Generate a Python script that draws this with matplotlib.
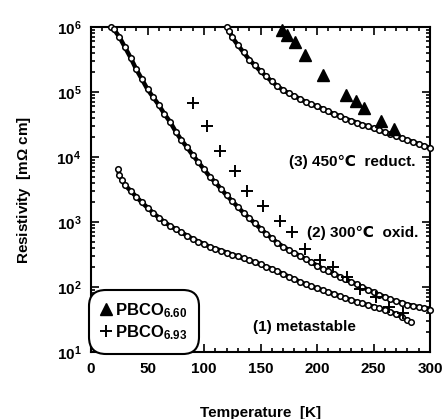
import numpy as np
import matplotlib
matplotlib.use("Agg")
import matplotlib.pyplot as plt
from matplotlib.ticker import MultipleLocator, LogLocator

plt.rcParams['font.family'] = ['Liberation Sans', 'DejaVu Sans']
plt.rcParams['mathtext.fontset'] = 'custom'
plt.rcParams['mathtext.rm'] = 'Liberation Sans:bold'
plt.rcParams['mathtext.it'] = 'Liberation Sans:bold'
plt.rcParams['mathtext.bf'] = 'Liberation Sans:bold'

# (1) metastable
t1 = [24, 25, 27, 30, 35, 40, 45, 50, 55, 60, 65, 70, 75, 80, 85, 90, 95,
      100, 105, 110, 115, 120, 125, 130, 135, 140, 145, 150, 155, 160, 165,
      170, 175, 180, 185, 190, 195, 200, 205, 210, 215, 220, 225, 230, 235,
      240, 245, 250, 255, 260, 265, 270, 275, 280, 283]
r1 = [6460, 5370, 4470, 3720, 3020, 2450, 2000, 1660, 1380, 1170, 1000, 871,
      776, 692, 617, 550, 501, 457, 417, 389, 363, 339, 316, 295, 275, 257,
      240, 224, 204, 191, 174, 158, 145, 132, 120, 110, 102, 95.5, 89.1,
      83.2, 77.6, 72.4, 67.6, 63.1, 58.9, 56.2, 52.5, 50.1, 46.8, 44.7,
      41.7, 38.0, 34.7, 30.9, 28.8]

# (2) 300C oxid.
t2 = [18, 20, 25, 30, 35, 40, 45, 50, 55, 60, 65, 70, 75, 80, 85, 90, 95,
      100, 105, 110, 115, 120, 125, 130, 135, 140, 145, 150, 155, 160, 165,
      170, 175, 180, 185, 190, 195, 200, 205, 210, 215, 220, 225, 230, 235,
      240, 245, 250, 255, 260, 265, 270, 275, 280, 285, 290, 295, 300]
r2 = [1.00e6, 9.33e5, 7.08e5, 4.90e5, 3.39e5, 2.24e5, 1.58e5, 1.10e5, 8.32e4,
      6.31e4, 4.57e4, 3.47e4, 2.45e4, 1.82e4, 1.41e4, 1.07e4, 8320, 6460,
      5010, 4070, 3240, 2570, 2090, 1700, 1380, 1150, 955, 794, 661, 562,
      479, 417, 372, 331, 302, 269, 240, 214, 191, 174, 158, 145, 132, 120,
      110, 100, 91.2, 83.2, 75.9, 70.8, 64.6, 60.3, 57.5, 53.7, 51.3, 49.0,
      46.8, 44.7]

# (3) 450C reduct.
t3 = [120, 122.5, 125, 130, 135, 140, 145, 150, 155, 160, 165, 170, 175,
      180, 185, 190, 195, 200, 205, 210, 215, 220, 225, 230, 235, 240, 245,
      250, 255, 260, 265, 270, 275, 280, 285, 290, 295, 300]
r3 = [1.00e6, 8.71e5, 6.92e5, 5.25e5, 4.07e5, 3.16e5, 2.57e5, 2.09e5,
      1.74e5, 1.45e5, 1.23e5, 1.07e5, 9.55e4, 8.71e4, 7.76e4, 7.08e4,
      6.46e4, 6.03e4, 5.50e4, 5.01e4, 4.57e4, 4.27e4, 3.89e4, 3.63e4,
      3.39e4, 3.16e4, 2.95e4, 2.75e4, 2.57e4, 2.40e4, 2.24e4, 2.09e4,
      1.95e4, 1.82e4, 1.70e4, 1.58e4, 1.48e4, 1.38e4]

# PBCO 6.60 (triangles)
t_660 = [169, 173.5, 180.5, 189.4, 205.3, 225.7, 234.5, 241.6, 256.6, 268.1]
r_660 = [8.9e5, 7.6e5, 5.9e5, 3.7e5, 1.82e5, 8.9e4, 7.2e4, 5.6e4, 3.55e4, 2.7e4]

# PBCO 6.93 (crosses)
t_693 = [90.3, 102.7, 114.2, 127.4, 138.1, 152.2, 167.3, 177.9, 189.4,
         202.7, 214.2, 226.5, 238.1, 252.2, 263.7, 276.1]
r_693 = [6.76e4, 2.95e4, 1.23e4, 6030, 2950, 1740, 1020, 692, 389, 263,
         200, 145, 93, 71, 49, 40]

fig = plt.figure(figsize=(4.45, 4.19), dpi=100)
ax = fig.add_axes([0.2045, 0.1599, 0.7618, 0.7757])

for t, r in [(t1, r1), (t2, r2), (t3, r3)]:
    ax.plot(t, r, '-', color='black', lw=3.2, solid_capstyle='round', zorder=2)
    ax.plot(t, r, 'o', ms=4.0, mfc='white', mec='black', mew=1.1,
            clip_on=False, zorder=3)

ax.plot(t_660, r_660, '^', ms=9, color='black', lw=0, clip_on=False, zorder=4)
ax.plot(t_693, r_693, '+', ms=8, mew=1.4, color='black', lw=0, zorder=4)

ax.set_yscale('log')
ax.set_xlim(0, 300)
ax.set_ylim(10, 1e6)
ax.xaxis.set_major_locator(MultipleLocator(50))
ax.xaxis.set_minor_locator(MultipleLocator(10))
ax.yaxis.set_major_locator(LogLocator(base=10, numticks=10))
ax.yaxis.set_minor_locator(LogLocator(base=10, subs=np.arange(2, 10), numticks=20))
ax.tick_params(which='both', direction='in', top=True, right=True, width=1.2)
ax.tick_params(which='major', length=6, labelsize=11, pad=7)
ax.tick_params(which='minor', length=3)
for lab in ax.get_xticklabels() + ax.get_yticklabels():
    lab.set_fontweight('bold')
for s in ax.spines.values():
    s.set_linewidth(1.5)

ax.set_xlabel('Temperature  [K]', fontsize=11, fontweight='bold', labelpad=22)
ax.set_ylabel('Resistivity  [m$\\Omega$ cm]', fontsize=11, fontweight='bold', labelpad=17)

ax.text(287, 8300, '(3) 450\u2103  reduct.', ha='right', va='center',
        fontsize=11, fontweight='bold')
ax.text(290, 690, '(2) 300\u2103  oxid.', ha='right', va='center',
        fontsize=11, fontweight='bold')
ax.text(143, 24.5, '(1) metastable', ha='left', va='center',
        fontsize=11, fontweight='bold')

leg = ax.legend([ax.lines[6], ax.lines[7]],
                ['PBCO$_{6.60}$', 'PBCO$_{6.93}$'],
                loc='lower left', bbox_to_anchor=(0.0, 0.0),
                fontsize=12, frameon=True, fancybox=True,
                handlelength=0.6, handletextpad=0.25, borderpad=0.5,
                labelspacing=0.2, borderaxespad=0.1)
frame = leg.get_frame()
frame.set_edgecolor('black')
frame.set_linewidth(1.5)
frame.set_boxstyle('round', pad=0.2, rounding_size=1.0)
frame.set_facecolor('white')
frame.set_alpha(1)
for txt in leg.get_texts():
    txt.set_fontweight('bold')

fig.savefig('out.png', dpi=100)
